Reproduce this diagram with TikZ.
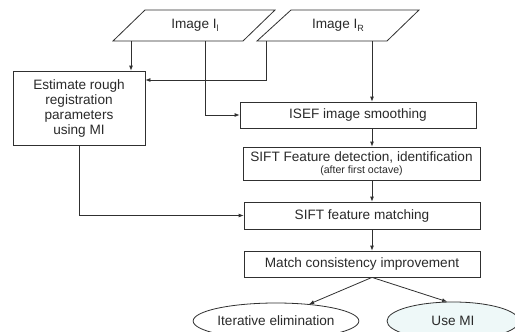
\documentclass[tikz,border=0pt]{standalone}
\usepackage{fontspec}
\setmainfont{Liberation Sans}
\usetikzlibrary{arrows.meta,shapes.geometric}
\definecolor{linec}{HTML}{303030}
\definecolor{txtc}{HTML}{2A2A2A}
\definecolor{mifill}{HTML}{EEF8F8}
\begin{document}
\begin{tikzpicture}[x=1pt,y=-1pt,
  box/.style={draw=linec, line width=0.8pt, rectangle, inner sep=0pt, text=txtc,
    font=\fontsize{13.6}{15}\selectfont},
  ell/.style={draw=linec, line width=0.8pt, ellipse, inner sep=0pt, text=txtc, fill=white,
    font=\fontsize{13.6}{15}\selectfont},
  lbl/.style={inner sep=0pt, text=txtc, font=\fontsize{13.6}{15}\selectfont},
  shp/.style={draw=linec, line width=0.8pt},
  arr/.style={draw=linec, line width=0.8pt, -{Latex[length=5pt,width=4pt]}}]
\useasboundingbox (0,0) rectangle (515,332);
\clip (0,0) rectangle (515,332);
\fill[white] (0,0) rectangle (515,332);
% input images
\draw[shp] (113,41) -- (243,41) -- (275,10) -- (145,10) -- cycle;
\node[lbl] (il) at (195,25) {Image I\raisebox{-3pt}{\fontsize{9}{9}\selectfont l}};
\draw[shp] (257,41) -- (387,41) -- (419,10) -- (291,10) -- cycle;
\node[lbl] (ir) at (338,25) {Image I\raisebox{-3pt}{\fontsize{9}{9}\selectfont R}};
\coordinate (ilb1) at (131,41);
\coordinate (ilb2) at (205,41);
\coordinate (irb1) at (266,41);
\coordinate (irb2) at (372,41);
\coordinate (irturn) at (266,80);
% boxes
\node[box, minimum width=132, minimum height=74, align=center] (est) at (79,108)
  {Estimate rough\\registration\\parameters\\using MI};
\node[box, minimum width=236, minimum height=26] (isef) at (358,115) {ISEF image smoothing};
\node[box, minimum width=237, minimum height=33, align=center] (det) at (361.5,163.5)
  {SIFT Feature detection, identification\\[-3pt]{\fontsize{10.6}{12}\selectfont (after first octave)}};
\node[box, minimum width=236, minimum height=27] (match) at (362,215.5) {SIFT feature matching};
\node[box, minimum width=236, minimum height=26] (cons) at (362,264) {Match consistency improvement};
% ellipses
\node[ell, minimum width=138, minimum height=36] (iter) at (276,321) {Iterative elimination};
\node[ell, fill=mifill, minimum width=132, minimum height=38] (usemi) at (453,321) {Use MI};
% connectors
\draw[arr] (ilb1) -- (est.north -| ilb1);
\draw[arr] (ilb2) |- (isef.west);
\draw[arr] (irb1) -- (irturn) -- (est.east |- irturn);
\draw[arr] (irb2) -- (isef.north -| irb2);
\draw[arr] (isef.south -| irb2) -- (det.north -| irb2);
\draw[arr] (det.south -| irb2) -- (match.north -| irb2);
\draw[arr] (match.south -| irb2) -- (cons.north -| irb2);
\draw[arr] (est.south) |- (match.west);
\draw[arr] (cons.south -| irb2) -- (iter.27);
\draw[arr] (cons.south -| irb2) -- (usemi.107);
\end{tikzpicture}
\end{document}
